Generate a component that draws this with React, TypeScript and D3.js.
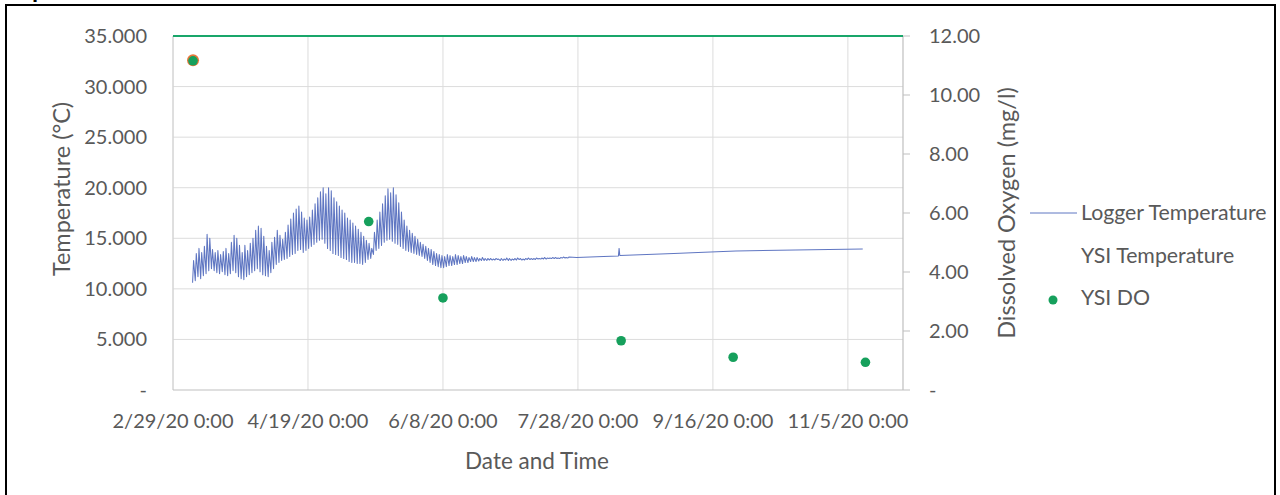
import React from "react";
import * as d3 from "d3";

// ---------- data ----------
const xTickDates = ["2020-02-29", "2020-04-19", "2020-06-08", "2020-07-28", "2020-09-16", "2020-11-05"];
const xTickLabels = ["2/29/20 0:00", "4/19/20 0:00", "6/8/20 0:00", "7/28/20 0:00", "9/16/20 0:00", "11/5/20 0:00"];
const xDomain = ["2020-02-29T00:00", "2020-11-25T10:00"];

const leftTicks = [0, 5, 10, 15, 20, 25, 30, 35];
const leftTickLabels = ["-", "5.000", "10.000", "15.000", "20.000", "25.000", "30.000", "35.000"];
const rightTicks = [0, 2, 4, 6, 8, 10, 12];
const rightTickLabels = ["-", "2.00", "4.00", "6.00", "8.00", "10.00", "12.00"];

// Logger temperature: daily minimum / maximum, starting 2020-03-07
const loggerStart = "2020-03-07";
const loggerDailyMax = [
  12.8, 13.5, 14.0, 13.6, 14.2,
  15.4, 15.0,
  13.9, 13.6, 13.8, 13.4, 13.7, 14.0, 13.5,
  14.6, 15.3, 15.0, 14.3,
  13.6, 14.3, 13.8, 14.5,
  15.0, 15.8, 16.2, 16.0, 15.2,
  14.2, 13.8, 14.6, 15.1,
  15.8, 15.3, 14.9, 15.6,
  16.3, 16.9, 17.5, 17.9, 18.2,
  17.6, 17.0, 16.8, 17.1, 17.8, 18.4,
  19.0, 19.6, 20.0, 19.4, 20.0, 19.7, 19.0, 18.6,
  18.2, 17.8, 17.5, 17.0, 16.8, 16.5,
  16.2, 15.9, 15.6, 15.2, 14.8, 14.5,
  14.0, 15.6,
  16.8, 17.6, 18.4, 19.2,
  19.9, 19.5, 20.0, 19.3, 18.5,
  17.6, 16.8, 16.2, 15.8, 15.5,
  15.2, 14.9, 14.6, 14.4, 14.2, 14.0,
  13.9, 13.7, 13.5, 13.4, 13.3, 13.2,
  13.4, 13.3, 13.2, 13.4, 13.3, 13.2, 13.3, 13.2, 13.1, 13.2,
  13.1, 13.1, 13.0, 13.1, 13.0, 13.0, 13.0, 12.95, 13.0, 12.95,
  13.0, 12.95, 13.05, 13.0, 12.95, 13.0, 13.05, 13.0, 12.95, 13.0,
  13.05, 13.0, 13.0, 13.05, 13.0, 13.05, 13.1, 13.05, 13.05, 13.1,
  13.1, 13.05, 13.1, 13.15, 13.1, 13.15,
];
const loggerDailyMin = [
  10.6, 10.8, 11.2, 11.0, 11.3,
  11.5, 11.8,
  12.0, 11.8, 11.6, 11.5, 11.7, 11.4, 11.3,
  11.5, 11.8, 11.6, 11.2,
  11.0, 10.9, 11.2, 11.4,
  11.6, 11.8, 12.0, 11.7, 11.4,
  11.3, 11.2, 11.6, 12.0,
  12.4, 12.6, 12.8, 12.9,
  13.0, 13.2, 13.4, 13.5, 13.8,
  13.9, 13.6, 13.8, 14.0, 14.2, 14.4,
  14.6, 14.8, 14.9, 14.5, 14.0, 13.8, 13.5, 13.4,
  13.3, 13.1, 13.0, 12.9, 12.7, 12.6,
  12.6, 12.5, 12.5, 12.4, 12.6, 12.9,
  13.0, 13.4,
  13.8, 14.0, 14.3, 14.6,
  14.8, 14.9, 14.7, 14.5, 14.4,
  14.2, 14.0, 13.8, 13.7, 13.6,
  13.5, 13.4, 13.3, 13.2, 13.0, 12.8,
  12.6, 12.4, 12.3, 12.2, 12.1, 12.1,
  12.2, 12.3, 12.3, 12.4, 12.4, 12.5, 12.5, 12.6, 12.6, 12.7,
  12.7, 12.7, 12.75, 12.8, 12.8, 12.8, 12.85, 12.85, 12.85, 12.9,
  12.8, 12.8, 12.85, 12.8, 12.8, 12.85, 12.85, 12.9, 12.85, 12.85,
  12.9, 12.9, 12.9, 12.9, 12.95, 12.95, 12.95, 12.95, 13.0, 13.0,
  13.0, 13.0, 13.0, 13.05, 13.05, 13.05,
];
// Logger temperature after the daily cycle fades
const loggerTailDates = [
  "2020-07-27T12:00", "2020-08-06T12:00", "2020-08-12T00:00", "2020-08-12T06:00", "2020-08-12T12:00",
  "2020-08-22T12:00", "2020-09-01T12:00", "2020-09-10T12:00", "2020-09-24T12:00",
  "2020-10-16T12:00", "2020-11-10T12:00",
];
const loggerTailValues = [13.1, 13.2, 13.25, 14.0, 13.3, 13.4, 13.5, 13.6, 13.75, 13.85, 13.95];

// YSI measurements
const ysiDates = ["2020-03-07T10:00", "2020-05-11T12:00", "2020-06-08T00:00", "2020-08-13T00:00", "2020-09-23T12:00", "2020-11-11T12:00"];
const ysiDO = [11.16, 5.71, 3.12, 1.67, 1.11, 0.94];
const ysiTempDates = ["2020-03-07T10:00"];
const ysiTemp = [32.6];
const topLineValue = 35;

// ---------- helpers ----------
const parse = (s: string) => {
  const [d, t] = s.split("T");
  const [y, m, dd] = d.split("-").map(Number);
  const [hh, mm] = (t || "00:00").split(":").map(Number);
  return new Date(Date.UTC(y, m - 1, dd, hh, mm));
};

const FONT = "Lato, 'Open Sans', sans-serif";
const TXT = "#595959";

export default function App() {
  const left = 173, right = 903, top = 36, bottom = 390;
  const x = d3.scaleUtc().domain(xDomain.map(parse)).range([left, right]);
  const yL = d3.scaleLinear().domain([0, 35]).range([bottom, top]);
  const yR = d3.scaleLinear().domain([0, 12]).range([bottom, top]);

  // logger series
  const start = parse(loggerStart);
  const logger: [Date, number][] = [];
  loggerDailyMax.forEach((mx, i) => {
    const base = d3.utcDay.offset(start, i);
    logger.push([d3.utcHour.offset(base, 6), loggerDailyMin[i]]);
    logger.push([d3.utcHour.offset(base, 15), mx]);
  });
  loggerTailDates.forEach((d, i) => logger.push([parse(d), loggerTailValues[i]]));
  const line = d3.line<[Date, number]>().x((d) => x(d[0])).y((d) => yL(d[1]));

  return (
    <svg width={1280} height={495} style={{ position: "absolute", left: 0, top: 0, background: "#fff" }} fontFamily={FONT}>
      <rect x={0} y={0} width={1280} height={495} fill="#fff" />
      {/* partial text above frame */}
      <text x={32} y={-3} fontSize={22} fontWeight="bold" fill="#000" fontFamily="'Liberation Sans', Arial, sans-serif">p</text>
      {/* frame */}
      <path d="M6,500 L6,5 L1275,5 L1275,500" fill="none" stroke="#000" strokeWidth={2} />

      {/* horizontal gridlines */}
      {leftTicks.filter((t) => t > 0 && t < 35).map((t) => (
        <line key={"hg" + t} x1={left} x2={right} y1={yL(t)} y2={yL(t)} stroke="#dcdcdc" strokeWidth={1} />
      ))}
      {/* vertical gridlines */}
      {xTickDates.map((d) => (
        <line key={"vg" + d} x1={x(parse(d))} x2={x(parse(d))} y1={top} y2={bottom} stroke="#dcdcdc" strokeWidth={1} />
      ))}
      {/* axes lines */}
      <line x1={left} x2={left} y1={top} y2={bottom} stroke="#d0d0d0" strokeWidth={1} />
      <line x1={left} x2={right} y1={bottom} y2={bottom} stroke="#bfbfbf" strokeWidth={1.2} />
      <line x1={right} x2={right} y1={top} y2={bottom} stroke="#bfbfbf" strokeWidth={1.2} />
      {rightTicks.map((t) => (
        <line key={"rt" + t} x1={right} x2={right + 7} y1={yR(t)} y2={yR(t)} stroke="#bfbfbf" strokeWidth={1} />
      ))}
      {/* top green line */}
      <line x1={left} x2={right} y1={yL(topLineValue)} y2={yL(topLineValue)} stroke="#19a66a" strokeWidth={2} />

      {/* logger temperature */}
      <path d={line(logger) || ""} fill="none" stroke="#5f76c2" strokeWidth={1.05} strokeLinejoin="round" />

      {/* YSI temperature */}
      {ysiTempDates.map((d, i) => (
        <circle key={"yt" + i} cx={x(parse(d))} cy={yL(ysiTemp[i])} r={6} fill="#e8773a" />
      ))}
      {/* YSI DO */}
      {ysiDates.map((d, i) => (
        <circle key={"do" + i} cx={x(parse(d))} cy={yR(ysiDO[i])} r={4.8} fill="#16a05c" />
      ))}

      {/* left tick labels */}
      {leftTicks.map((t, i) => (
        <text key={"lt" + t} x={147} y={yL(t)} dy="0.35em" textAnchor="end" fontSize={20} fill={TXT}>{leftTickLabels[i]}</text>
      ))}
      {/* right tick labels */}
      {rightTicks.map((t, i) => (
        <text key={"rl" + t} x={929} y={yR(t)} dy="0.35em" textAnchor="start" fontSize={20} fill={TXT}>{rightTickLabels[i]}</text>
      ))}
      {/* x tick labels */}
      {xTickDates.map((d, i) => (
        <text key={"xl" + d} x={x(parse(d))} y={428} textAnchor="middle" fontSize={20} fill={TXT}>{xTickLabels[i]}</text>
      ))}

      {/* axis titles */}
      <text x={537} y={469} textAnchor="middle" fontSize={22.5} fill={TXT}>Date and Time</text>
      <text transform="translate(70,189) rotate(-90)" textAnchor="middle" fontSize={23.5} fill={TXT}>Temperature (°C)</text>
      <text transform="translate(1015,213) rotate(-90)" textAnchor="middle" fontSize={23.5} fill={TXT}>Dissolved Oxygen (mg/l)</text>

      {/* legend */}
      <line x1={1030} x2={1077} y1={213} y2={213} stroke="#5f76c2" strokeWidth={1} />
      <text x={1081} y={220} fontSize={21.3} fill={TXT}>Logger Temperature</text>
      <text x={1081} y={263} fontSize={21.3} fill={TXT}>YSI Temperature</text>
      <circle cx={1053} cy={300} r={4.5} fill="#16a05c" />
      <text x={1081} y={305} fontSize={21.3} fill={TXT}>YSI DO</text>
    </svg>
  );
}
